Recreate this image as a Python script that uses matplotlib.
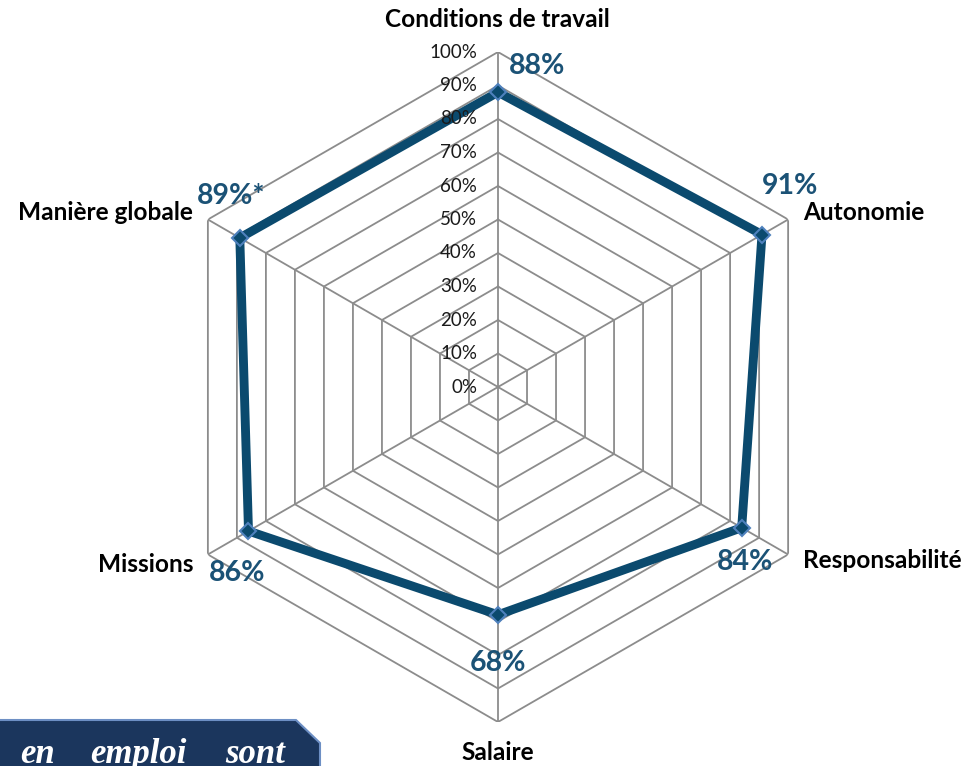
import numpy as np
import matplotlib.pyplot as plt
from matplotlib.patches import Polygon

categories = ['Conditions de travail', 'Autonomie', 'Responsabilité',
              'Salaire', 'Missions', 'Manière globale']
values = [0.88, 0.91, 0.84, 0.68, 0.86, 0.89]
value_labels = ['88%', '91%', '84%', '68%', '86%', '89%*']
tick_levels = [0.0, 0.1, 0.2, 0.3, 0.4, 0.5, 0.6, 0.7, 0.8, 0.9, 1.0]
tick_labels = ['0%', '10%', '20%', '30%', '40%', '50%',
               '60%', '70%', '80%', '90%', '100%']

W, H = 967, 766
fig = plt.figure(figsize=(W / 100, H / 100), dpi=100)

# radar centre and radius in pixels
cx, cy, R = 498, 387, 335
ax = fig.add_axes([(cx - R) / W, 1 - (cy + R) / H, 2 * R / W, 2 * R / H],
                  projection='polar')
ax.set_theta_offset(np.pi / 2)
ax.set_theta_direction(-1)
ax.set_ylim(0, 1)
ax.axis('off')

n = len(categories)
angles = np.linspace(0, 2 * np.pi, n, endpoint=False)
closed = np.append(angles, angles[0])

grid_col = '#8c8c8c'
for lv in tick_levels[1:]:
    ax.plot(closed, [lv] * (n + 1), color=grid_col, lw=1.3, zorder=1)
for a in angles:
    ax.plot([a, a], [0, 1], color=grid_col, lw=1.3, zorder=1)

vals = values + values[:1]
ax.plot(closed, vals, color='#0b4a6e', lw=6.4, zorder=3, solid_joinstyle='miter')
ax.plot(angles, values, ls='none', marker='D', ms=8, mfc='#0b4a6e',
        mec='#4f81bd', mew=1.5, zorder=4)

# radial tick labels
for lv, lab in zip(tick_levels, tick_labels):
    ax.annotate(lab, xy=(0, lv), xytext=(-21, 0), textcoords='offset pixels',
                ha='right', va='center', fontsize=13.5, family='Lato',
                color='#1a1a1a')


def px(x, y):
    return x / W, 1 - y / H


# category labels (x, baseline y, alignment)
cat_pos = [(497, 27, 'center'), (803, 220, 'left'), (803, 568, 'left'),
           (498, 760, 'center'), (193, 572, 'right'), (193, 220, 'right')]
for lab, (x, y, ha) in zip(categories, cat_pos):
    fig.text(*px(x, y), lab, ha=ha, va='baseline', fontsize=17.6,
             fontweight='bold', family='Lato', color='black')

# value labels
val_pos = [(537, 66), (790, 186), (745, 562), (498, 663), (237, 573), (231, 196)]
for lab, (x, y) in zip(value_labels, val_pos):
    fig.text(*px(x, y), lab, ha='center', va='center', fontsize=20.5,
             fontweight='bold', family='Lato', color='#1b5276')

# dark box in the lower left corner
box = Polygon([px(-5, 720), px(296, 720), px(320, 743), px(320, 780), px(-5, 780)],
              closed=True, transform=fig.transFigure, facecolor='#1b365d',
              edgecolor='#6d8fc4', lw=1.5, zorder=5)
fig.patches.append(box)
for word, x in [('en', 20), ('emploi', 90), ('sont', 225)]:
    fig.text(*px(x, 763), word, ha='left', va='baseline', fontsize=25,
             style='italic', fontweight='bold', family='Liberation Serif',
             color='white', zorder=6)

fig.savefig('out.png', dpi=100)
